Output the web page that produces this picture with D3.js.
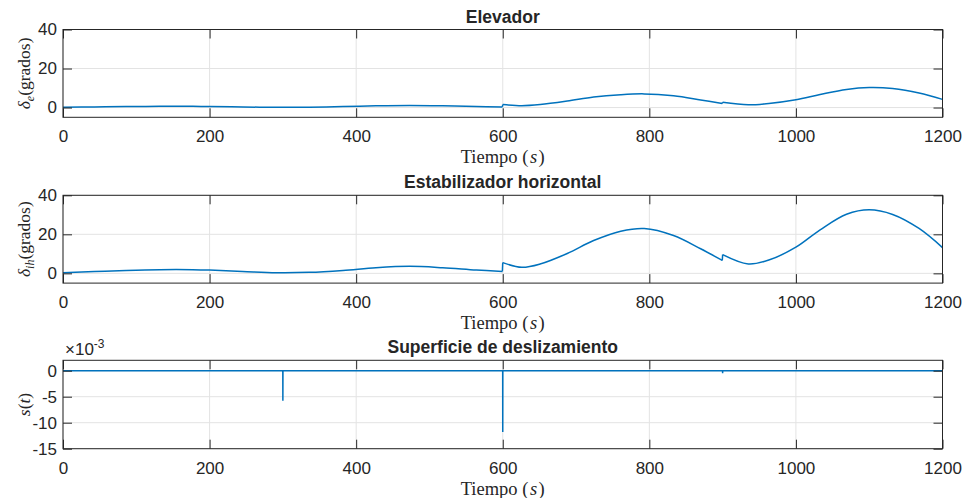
<!DOCTYPE html>
<html>
<head>
<meta charset="utf-8">
<script src="https://cdn.jsdelivr.net/npm/d3@7"></script>
<style>
  body { margin: 0; background: #fff; }
  text { fill: #262626; }
</style>
</head>
<body>
<div id="chart"></div>
<script>
// time samples (s), shared by the two upper panels
var tiempo = [0, 43, 86, 132, 177, 200, 245, 291, 336, 382, 427, 473, 518, 564, 599.5,
              600, 626, 651, 688, 724, 761, 793, 833, 870, 899.5,
              900, 935, 963, 1000, 1033, 1069, 1100, 1132, 1168, 1200];
var elevador = [0.1, 0.3, 0.5, 0.6, 0.6, 0.5, 0.3, 0.1, 0.15, 0.5, 0.9, 1.1, 0.9, 0.5, 0.3,
                1.5, 0.9, 1.5, 3.3, 5.4, 6.6, 7.0, 6.0, 3.9, 2.1,
                2.7, 1.4, 2.1, 4.0, 6.7, 9.3, 10.3, 9.8, 7.5, 4.2];
var estabilizador = [0.3, 0.9, 1.5, 1.9, 1.9, 1.7, 1.0, 0.3, 0.5, 1.5, 2.9, 3.6, 2.9, 1.7, 1.0,
                     5.5, 3.1, 4.8, 10.2, 16.8, 21.6, 23, 19.4, 12.6, 6.6,
                     9.6, 4.8, 6.8, 13.4, 22.3, 30.3, 32.6, 30.2, 23, 13.2];
var tiempoS = [0, 299.9, 300, 300.1, 599.9, 600, 600.1, 899.9, 900, 900.1, 1200];
var superficie = [0, 0, -0.0058, 0, 0, -0.0118, 0, 0, -0.0005, 0, 0];

var xTicks = [0, 200, 400, 600, 800, 1000, 1200];
var yTicksDelta = [0, 20, 40];
var yTicksS = [-0.015, -0.01, -0.005, 0];

var width = 964, height = 498;
var left = 63, right = 942.5;
var ink = "#262626";

var svg = d3.select("#chart")
    .append("svg")
        .attr("width", width)
        .attr("height", height)
        .style("font-family", "'Liberation Sans', Arial, sans-serif");

svg.append("rect")
    .attr("width", width)
    .attr("height", height)
    .attr("fill", "#fff");

function drawPanel(cfg){
    var x = d3.scaleLinear().domain([0, 1200]).range([left, right]);
    var y = d3.scaleLinear().domain(cfg.domain).range([cfg.bottom, cfg.top]);
    var g = svg.append("g");

    // grid
    g.selectAll(".vgrid").data(xTicks).enter()
        .append("line")
        .attr("x1", d => x(d)).attr("x2", d => x(d))
        .attr("y1", cfg.top).attr("y2", cfg.bottom)
        .attr("stroke", "#e3e3e3").attr("stroke-width", 1);
    g.selectAll(".hgrid").data(cfg.yTicks).enter()
        .append("line")
        .attr("x1", left).attr("x2", right)
        .attr("y1", d => y(d)).attr("y2", d => y(d))
        .attr("stroke", "#e3e3e3").attr("stroke-width", 1);

    // data line: smooth pieces, joined by straight jumps where two samples share nearly the same time
    var pts = cfg.t.map((t, i) => [t, cfg.values[i]]);
    var pieces = [[pts[0]]];
    for (var i = 1; i < pts.length; i++){
        if (cfg.smooth && pts[i][0] - pts[i-1][0] < 1) pieces.push([]);
        pieces[pieces.length - 1].push(pts[i]);
    }
    var line = d3.line()
        .x(d => x(d[0]))
        .y(d => y(d[1]))
        .curve(cfg.smooth ? d3.curveCatmullRom.alpha(0.5) : d3.curveLinear);
    var straight = d3.line().x(d => x(d[0])).y(d => y(d[1]));
    var lineG = g.append("g")
        .attr("fill", "none")
        .attr("stroke", "#0072BD")
        .attr("stroke-width", 1.5);
    lineG.selectAll("path.piece").data(pieces).enter()
        .append("path")
        .attr("class", "piece")
        .attr("d", line);
    var jumps = pieces.slice(1).map((p, k) => [pieces[k][pieces[k].length - 1], p[0]]);
    lineG.selectAll("path.jump").data(jumps).enter()
        .append("path")
        .attr("class", "jump")
        .attr("d", straight);

    // axes with inward ticks, box on
    var fmt = cfg.format || (d => String(d));
    g.append("g")
        .attr("transform", "translate(0," + cfg.bottom + ")")
        .call(d3.axisBottom(x).tickValues(xTicks).tickFormat(d => String(d)).tickSizeInner(-9).tickSizeOuter(0).tickPadding(13));
    g.append("g")
        .attr("transform", "translate(" + left + ",0)")
        .call(d3.axisLeft(y).tickValues(cfg.yTicks).tickFormat(fmt).tickSizeInner(-9).tickSizeOuter(0).tickPadding(6));
    g.append("g")
        .attr("transform", "translate(0," + cfg.top + ")")
        .call(d3.axisTop(x).tickValues(xTicks).tickSizeInner(-9).tickSizeOuter(0).tickFormat(""));
    g.append("g")
        .attr("transform", "translate(" + right + ",0)")
        .call(d3.axisRight(y).tickValues(cfg.yTicks).tickSizeInner(-9).tickSizeOuter(0).tickFormat(""));

    g.selectAll(".domain").remove();
    g.selectAll(".tick line").attr("stroke", ink);
    g.selectAll(".tick text")
        .attr("fill", ink)
        .style("font-size", "17px")
        .style("font-family", "'Liberation Sans', Arial, sans-serif");

    g.append("rect")
        .attr("x", left).attr("y", cfg.top)
        .attr("width", right - left).attr("height", cfg.bottom - cfg.top)
        .attr("fill", "none").attr("stroke", ink).attr("stroke-width", 1);

    // title
    g.append("text")
        .text(cfg.title)
        .attr("x", (left + right) / 2)
        .attr("y", cfg.top - 7)
        .attr("text-anchor", "middle")
        .style("font-weight", "bold")
        .style("font-size", "17.5px");

    // x label
    var xl = g.append("text")
        .attr("x", (left + right) / 2)
        .attr("y", cfg.bottom + 46)
        .attr("text-anchor", "middle")
        .style("font-family", "'Liberation Serif', 'Times New Roman', serif")
        .style("font-size", "18.5px");
    xl.append("tspan").text("Tiempo (");
    xl.append("tspan").text("s").style("font-style", "italic").attr("dx", 1.5);
    xl.append("tspan").text(")").attr("dx", 1.5);

    // y label
    var yl = g.append("text")
        .attr("transform", "translate(30," + (cfg.top + cfg.bottom) / 2 + ") rotate(-90)")
        .attr("text-anchor", "middle")
        .style("font-family", "'Liberation Serif', 'Times New Roman', serif")
        .style("font-size", "17.5px");
    cfg.ylabel(yl);

    return g;
}

drawPanel({
    title: "Elevador", top: 29.5, bottom: 117.3, domain: [-5, 40],
    yTicks: yTicksDelta, t: tiempo, values: elevador, smooth: true,
    ylabel: function(yl){
        yl.append("tspan").text("δ").style("font-style", "italic");
        yl.append("tspan").text("e").style("font-style", "italic").style("font-size", "12px").attr("dy", 4);
        yl.append("tspan").text("(grados)").attr("dy", -4);
    }
});

drawPanel({
    title: "Estabilizador horizontal", top: 195.3, bottom: 283.1, domain: [-5, 40],
    yTicks: yTicksDelta, t: tiempo, values: estabilizador, smooth: true,
    ylabel: function(yl){
        yl.append("tspan").text("δ").style("font-style", "italic");
        yl.append("tspan").text("ih").style("font-style", "italic").style("font-size", "12px").attr("dy", 4);
        yl.append("tspan").text("(grados)").attr("dy", -4);
    }
});

drawPanel({
    title: "Superficie de deslizamiento", top: 360.3, bottom: 448.7, domain: [-0.015, 0.002],
    yTicks: yTicksS, t: tiempoS, values: superficie, smooth: false,
    format: d => String(Math.round(d * 1000)),
    ylabel: function(yl){
        yl.append("tspan").text("s").style("font-style", "italic");
        yl.append("tspan").text("(");
        yl.append("tspan").text("t").style("font-style", "italic");
        yl.append("tspan").text(")");
    }
});

// exponent label of the bottom panel
var expo = svg.append("text")
    .attr("x", 65)
    .attr("y", 354.5)
    .style("font-size", "17px");
expo.append("tspan").text("×10");
expo.append("tspan").text("-3").style("font-size", "12px").attr("dy", -7);
</script>
</body>
</html>
